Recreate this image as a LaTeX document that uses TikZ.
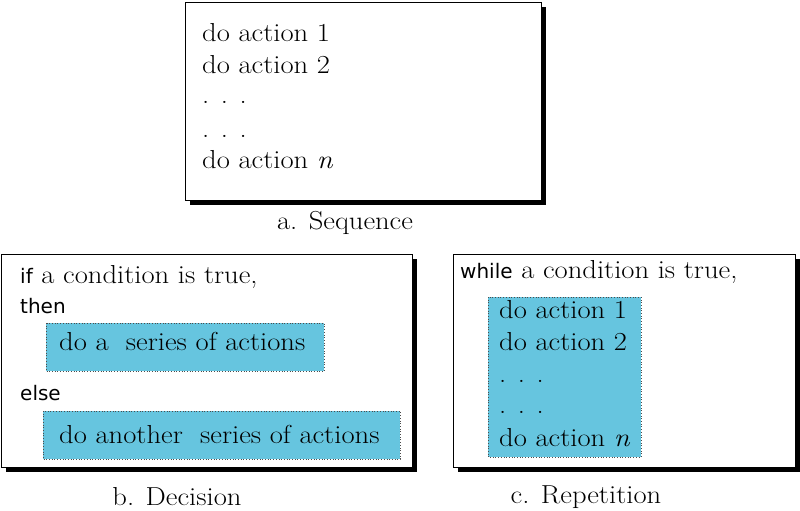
\documentclass[tikz,border=0pt]{standalone}
\usepackage{fontspec}
\setmainfont{Latin Modern Roman}[FakeStretch=1.1]
\newfontfamily\kwfont{DejaVu Sans}
\definecolor{actionBlue}{RGB}{102,197,223}

% keyword in sans-serif, smaller than the body text
\newcommand{\kw}[1]{{\kwfont\fontsize{20}{24}\selectfont #1}}

\begin{document}
\begin{tikzpicture}[x=1pt, y=-1pt,
    every node/.style={inner sep=0pt, anchor=base west, font=\fontsize{26}{30}\selectfont},
    caption/.style={anchor=base},
    frame/.style={draw=black, fill=white, line width=0.9pt},
    actbox/.style={draw=black!70, fill=actionBlue, dotted, line width=0.7pt}]
    \useasboundingbox (0,0) rectangle (800,511);

    % Macro for a white frame with a black drop shadow (x1, y1, x2, y2)
    \newcommand{\shadowBox}[4]{
        \fill[black] ({#1+5},{#2+5}) rectangle ({#3+5},{#4+5});
        \draw[frame] (#1,#2) rectangle (#3,#4);
    }

    % a. Sequence
    \shadowBox{185}{2}{541}{200}
    \foreach \y/\t [count=\i] in {42/do action 1, 74/do action 2, 103/. . ., 137/. . ., 168/do action \textit{n}}{
        \node (seq\i) at (202,\y) {\t};
    }
    \node[caption] (capSeq) at (345,229) {a. Sequence};

    % b. Decision
    \shadowBox{1}{254}{412}{467}
    \node (ifLine) at (20,283) {\kw{if} a condition is true,};
    \node (thenLine) at (20,313) {\kw{then}};
    \draw[actbox] (46,323) rectangle (324,371);
    \node (thenAct) at (59,350) {do a\ \ series of actions};
    \node (elseLine) at (20,400) {\kw{else}};
    \draw[actbox] (43,411) rectangle (400,459);
    \node (elseAct) at (59,443) {do another\ \ series of actions};
    \node[caption] (capDec) at (177,505) {b. Decision};

    % c. Repetition
    \shadowBox{453}{254}{795}{467}
    \node (whileLine) at (460,278) {\kw{while} a condition is true,};
    \draw[actbox] (488,297) rectangle (641,457);
    \foreach \y/\t [count=\i] in {318/do action 1, 350/do action 2, 382/. . ., 413/. . ., 446/do action \textit{n}}{
        \node (rep\i) at (499,\y) {\t};
    }
    \node[caption] (capRep) at (586,503) {c. Repetition};

\end{tikzpicture}
\end{document}
